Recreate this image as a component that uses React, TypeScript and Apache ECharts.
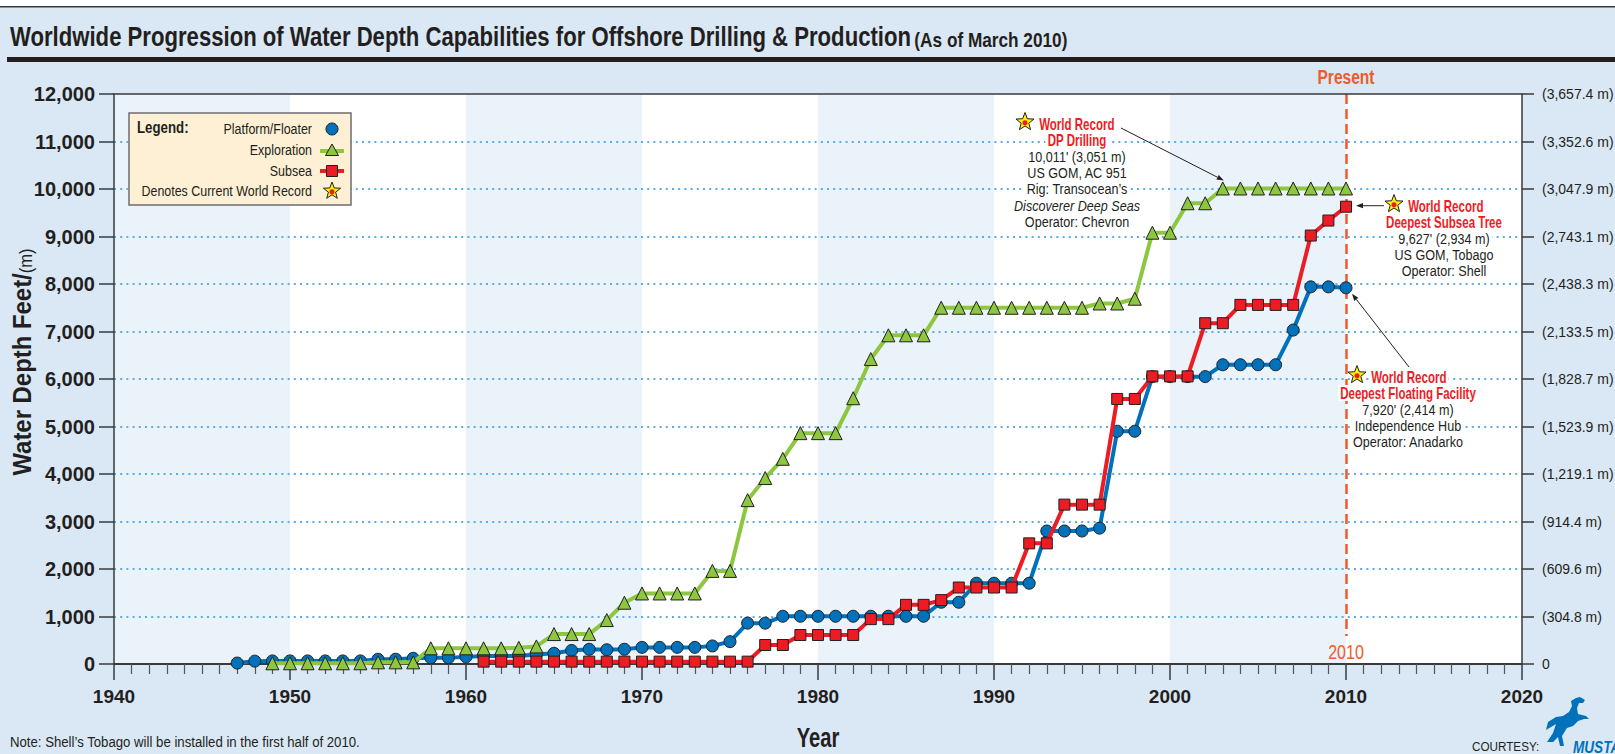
import React, { useEffect, useRef } from "react";
import * as echarts from "echarts";

const FONT = "'Liberation Sans', Arial, Helvetica, sans-serif";

// ---- data ----
const years = [
  1947, 1948, 1949, 1950, 1951, 1952, 1953, 1954, 1955, 1956, 1957, 1958, 1959, 1960,
  1961, 1962, 1963, 1964, 1965, 1966, 1967, 1968, 1969, 1970, 1971, 1972, 1973, 1974,
  1975, 1976, 1977, 1978, 1979, 1980, 1981, 1982, 1983, 1984, 1985, 1986, 1987, 1988,
  1989, 1990, 1991, 1992, 1993, 1994, 1995, 1996, 1997, 1998, 1999, 2000, 2001, 2002,
  2003, 2004, 2005, 2006, 2007, 2008, 2009, 2010,
];

const platformFloater = [
  20, 60, 65, 65, 65, 65, 65, 65, 100, 100, 120, 130, 130, 150,
  170, 170, 170, 200, 225, 285, 310, 300, 310, 350, 350, 350, 350, 380,
  470, 860, 860, 1005, 1005, 1005, 1005, 1005, 1005, 1005, 1005, 1005, 1300, 1300,
  1700, 1700, 1700, 1700, 2800, 2800, 2800, 2860, 4900, 4900, 6050, 6050, 6050, 6050,
  6300, 6300, 6300, 6300, 7030, 7940, 7940, 7920,
];

const exploration = [
  null, null, 15, 15, 15, 15, 15, 15, 35, 35, 35, 330, 330, 330,
  330, 330, 340, 370, 630, 630, 630, 925, 1290, 1485, 1485, 1485, 1485, 1960,
  1960, 3450, 3915, 4320, 4860, 4860, 4860, 5595, 6420, 6920, 6920, 6920, 7500, 7500,
  7500, 7500, 7500, 7500, 7500, 7500, 7500, 7590, 7590, 7690, 9080, 9080, 9700, 9700,
  10011, 10011, 10011, 10011, 10011, 10011, 10011, 10011,
];

const subsea = [
  null, null, null, null, null, null, null, null, null, null, null, null, null, null,
  50, 50, 50, 50, 50, 50, 50, 50, 50, 50, 50, 50, 50, 50,
  50, 50, 400, 400, 610, 610, 610, 610, 945, 945, 1245, 1245, 1345, 1610,
  1610, 1610, 1610, 2540, 2540, 3355, 3355, 3355, 5580, 5580, 6055, 6055, 6055, 7175,
  7175, 7560, 7560, 7560, 7560, 9020, 9336, 9627,
];

const xMin = 1940;
const xMax = 2020;
const yMax = 12000;
const meterLabels = [
  "0", "(304.8 m)", "(609.6 m)", "(914.4 m)", "(1,219.1 m)", "(1,523.9 m)", "(1,828.7 m)",
  "(2,133.5 m)", "(2,438.3 m)", "(2,743.1 m)", "(3,047.9 m)", "(3,352.6 m)", "(3,657.4 m)",
];
const presentYear = 2010;
const presentLineBottom = 590;

const legendItems = ["Platform/Floater", "Exploration", "Subsea", "Denotes Current World Record"];

const recordDP = {
  point: [2003, 10011],
  title: ["World Record", "DP Drilling"],
  lines: ["10,011' (3,051 m)", "US GOM, AC 951", "Rig: Transocean\u2019s", "Discoverer Deep Seas", "Operator: Chevron"],
};
const recordTree = {
  point: [2010, 9627],
  title: ["World Record", "Deepest Subsea Tree"],
  lines: ["9,627' (2,934 m)", "US GOM, Tobago", "Operator: Shell"],
};
const recordFloat = {
  point: [2010, 7920],
  title: ["World Record", "Deepest Floating Facility"],
  lines: ["7,920' (2,414 m)", "Independence Hub", "Operator: Anadarko"],
};

// ---- colours ----
const C = {
  bg: "#dae8f5",
  band: "#eaf2fa",
  grid: "#5fabe6",
  axis: "#3a3a3a",
  text: "#231f20",
  blue: "#0072bc",
  green: "#8dc63f",
  red: "#ed1c24",
  orange: "#f15a29",
  star: "#fff200",
};

function toPairs(vals: (number | null)[]) {
  return years.map((y, i) => [y, vals[i]]);
}

function starPts(cx: number, cy: number, R: number) {
  const pts: number[][] = [];
  for (let i = 0; i < 10; i++) {
    const r = i % 2 === 0 ? R : R * 0.42;
    const a = -Math.PI / 2 + (i * Math.PI) / 5;
    pts.push([cx + r * Math.cos(a), cy + r * Math.sin(a)]);
  }
  return pts;
}

function star(cx: number, cy: number, R = 9.5): any[] {
  return [
    { type: "polygon", z: 20, shape: { points: starPts(cx, cy, R) }, style: { fill: C.star, stroke: C.text, lineWidth: 1 } },
    { type: "circle", z: 21, shape: { cx, cy: cy + 0.8, r: 2.6 }, style: { fill: C.red } },
  ];
}

function txt(x: number, y: number, text: string, o: any = {}): any {
  const style: any = {
    text,
    fill: o.fill || C.text,
    fontSize: o.size || 15,
    fontWeight: o.weight || "normal",
    fontStyle: o.style || "normal",
    fontFamily: FONT,
    align: o.align || "center",
    verticalAlign: "middle",
  };
  if (o.bg) {
    style.backgroundColor = o.bg;
    style.padding = [0, 3];
  }
  return { type: "text", z: o.z || 20, x, y, scaleX: o.sx || 0.83, style };
}

function arrow(x1: number, y1: number, x2: number, y2: number): any[] {
  const dx = x2 - x1;
  const dy = y2 - y1;
  const len = Math.sqrt(dx * dx + dy * dy);
  const ux = dx / len;
  const uy = dy / len;
  const L = 7;
  const W = 2.6;
  const bx = x2 - ux * L;
  const by = y2 - uy * L;
  return [
    { type: "line", z: 22, shape: { x1, y1, x2: bx, y2: by }, style: { stroke: C.text, lineWidth: 1 } },
    {
      type: "polygon",
      z: 22,
      shape: { points: [[x2, y2], [bx - uy * W, by + ux * W], [bx + uy * W, by - ux * W]] },
      style: { fill: C.text },
    },
  ];
}

function recordBlock(block: any, starX: number, starY: number, centerX: number, lineGap = 16.3): any[] {
  const els: any[] = [];
  els.push(txt(starX + 12, starY + 2, block.title[0], { align: "left", fill: C.red, weight: "bold", size: 16, sx: 0.72, bg: "#ffffff" }));
  els.push(txt(centerX, starY + 18, block.title[1], { fill: C.red, weight: "bold", size: 16, sx: 0.72, bg: "#ffffff" }));
  block.lines.forEach((l: string, i: number) => {
    els.push(
      txt(centerX, starY + 18 + lineGap * (i + 1), l, {
        size: 15,
        sx: 0.84,
        bg: "#ffffff",
        style: l.startsWith("Discoverer") ? "italic" : "normal",
      })
    );
  });
  els.push(...star(starX, starY));
  return els;
}

export default function App() {
  const ref = useRef<HTMLDivElement>(null);

  useEffect(() => {
    if (!ref.current) return;
    const chart = echarts.init(ref.current, undefined, { renderer: "svg" });

    const markerBorder = { borderColor: C.text, borderWidth: 1 };

    chart.setOption({
      animation: false,
      backgroundColor: C.bg,
      grid: { left: 114, right: 93, top: 94, bottom: 90, containLabel: false, outerBoundsMode: "none" },
      xAxis: [
        {
          type: "value",
          z: 0,
          min: xMin,
          max: xMax,
          interval: 10,
          axisLine: { show: true, onZero: false, lineStyle: { color: C.axis, width: 2 } },
          axisTick: { show: true, length: 16, lineStyle: { color: C.axis, width: 1.5 } },
          minorTick: { show: true, splitNumber: 10, length: 10, lineStyle: { color: "#555", width: 1.2 } },
          axisLabel: {
            margin: 23,
            fontFamily: FONT,
            fontSize: 19,
            fontWeight: "bold",
            color: C.text,
            formatter: (v: number) => String(v),
          },
          splitLine: { show: false },
          splitArea: { show: true, areaStyle: { color: [C.band, "#ffffff"] } },
        },
        {
          type: "value",
          z: 1,
          position: "top",
          min: xMin,
          max: xMax,
          interval: 10,
          axisLine: { show: true, onZero: false, lineStyle: { color: C.axis, width: 1.5 } },
          axisTick: { show: false },
          axisLabel: { show: false },
          splitLine: { show: false },
          splitArea: { show: false },
        },
      ],
      yAxis: [
        {
          type: "value",
          z: 1,
          min: 0,
          max: yMax,
          interval: 1000,
          axisLine: { show: true, onZero: false, lineStyle: { color: C.axis, width: 1.5 } },
          axisTick: { show: true, length: 15, lineStyle: { color: C.axis, width: 1.5 } },
          axisLabel: {
            margin: 19,
            fontFamily: FONT,
            fontSize: 20,
            fontWeight: "bold",
            color: C.text,
            formatter: (v: number) => v.toLocaleString("en-US"),
          },
          splitLine: {
            show: true,
            showMinLine: false,
            showMaxLine: false,
            lineStyle: { color: C.grid, width: 2, type: [2, 4.2] },
          },
        },
        {
          type: "value",
          z: 1,
          position: "right",
          min: 0,
          max: yMax,
          interval: 1000,
          axisLine: { show: true, onZero: false, lineStyle: { color: C.axis, width: 1.5 } },
          axisTick: { show: true, length: 12, lineStyle: { color: C.axis, width: 1.5 } },
          axisLabel: {
            margin: 20,
            fontFamily: FONT,
            fontSize: 14,
            color: C.text,
            formatter: (v: number) => meterLabels[Math.round(v / 1000)],
          },
          splitLine: { show: false },
        },
      ],
      series: [
        {
          name: "Platform/Floater",
          type: "line",
          z: 2,
          data: toPairs(platformFloater),
          symbol: "circle",
          symbolSize: 12,
          lineStyle: { color: C.blue, width: 4 },
          itemStyle: { color: C.blue, ...markerBorder },
          markLine: {
            z: 1,
            silent: true,
            symbol: ["none", "none"],
            label: { show: false },
            lineStyle: { color: C.orange, width: 2.5, type: [10, 5] },
            data: [[{ coord: [presentYear, yMax] }, { coord: [presentYear, presentLineBottom] }]],
          },
        },
        {
          name: "Exploration",
          type: "line",
          z: 3,
          data: toPairs(exploration),
          symbol: "triangle",
          symbolSize: 13,
          lineStyle: { color: C.green, width: 4 },
          itemStyle: { color: C.green, ...markerBorder },
        },
        {
          name: "Subsea",
          type: "line",
          z: 4,
          data: toPairs(subsea),
          symbol: "rect",
          symbolSize: 11,
          lineStyle: { color: C.red, width: 4 },
          itemStyle: { color: C.red, ...markerBorder },
        },
      ],
    });

    const px = (p: number[]) => chart.convertToPixel({ xAxisIndex: 0, yAxisIndex: 0 }, p) as number[];

    const gfx: any[] = [];
    // top strip & title
    gfx.push({ type: "rect", z: 5, shape: { x: 0, y: 0, width: 1615, height: 6 }, style: { fill: "#ffffff" } });
    gfx.push({ type: "rect", z: 5, shape: { x: 0, y: 6, width: 1615, height: 1.6 }, style: { fill: "#3a3a3a" } });
    gfx.push({ type: "rect", z: 5, shape: { x: 7, y: 57, width: 1608, height: 5 }, style: { fill: C.text } });
    gfx.push({
      type: "text",
      z: 5,
      x: 10,
      y: 37,
      scaleX: 0.82,
      style: {
        text: "{a|Worldwide Progression of Water Depth Capabilities for Offshore Drilling & Production} {b|(As of March 2010)}",
        verticalAlign: "middle",
        align: "left",
        rich: {
          a: { fontFamily: FONT, fontSize: 27, fontWeight: "bold", fill: C.text, verticalAlign: "bottom" },
          b: { fontFamily: FONT, fontSize: 21, fontWeight: "bold", fill: C.text, verticalAlign: "bottom" },
        },
      },
    });

    // y axis name
    gfx.push({
      type: "text",
      z: 5,
      x: 22,
      y: 362,
      rotation: Math.PI / 2,
      scaleX: 0.92,
      style: {
        text: "{a|Water Depth Feet/}{b|(m)}",
        align: "center",
        verticalAlign: "middle",
        rich: {
          a: { fontFamily: FONT, fontSize: 26, fontWeight: "bold", fill: C.text, verticalAlign: "bottom" },
          b: { fontFamily: FONT, fontSize: 18, fill: C.text, verticalAlign: "bottom" },
        },
      },
    });

    // x axis name
    gfx.push(txt(px([1980, 0])[0], 737, "Year", { weight: "bold", size: 28, sx: 0.72 }));

    // legend
    gfx.push({
      type: "rect",
      z: 10,
      shape: { x: 129, y: 113, width: 222, height: 92 },
      style: { fill: "#fef0d4", stroke: "#6d6e71", lineWidth: 1.5 },
    });
    gfx.push(txt(137, 128, "Legend:", { align: "left", weight: "bold", size: 16 }));
    const rowY = [129, 150, 171, 191];
    legendItems.forEach((t, i) => gfx.push(txt(312, rowY[i], t, { align: "right", size: 15 })));
    gfx.push({ type: "circle", z: 20, shape: { cx: 332, cy: rowY[0], r: 6 }, style: { fill: C.blue, stroke: C.text, lineWidth: 1 } });
    gfx.push({ type: "line", z: 20, shape: { x1: 320, y1: rowY[1] + 1, x2: 344, y2: rowY[1] + 1 }, style: { stroke: C.green, lineWidth: 4 } });
    gfx.push({
      type: "polygon",
      z: 21,
      shape: { points: [[332, rowY[1] - 6], [338.5, rowY[1] + 5.5], [325.5, rowY[1] + 5.5]] },
      style: { fill: C.green, stroke: C.text, lineWidth: 1 },
    });
    gfx.push({ type: "line", z: 20, shape: { x1: 320, y1: rowY[2], x2: 344, y2: rowY[2] }, style: { stroke: C.red, lineWidth: 4 } });
    gfx.push({ type: "rect", z: 21, shape: { x: 326.5, y: rowY[2] - 5.5, width: 11, height: 11 }, style: { fill: C.red, stroke: C.text, lineWidth: 1 } });
    gfx.push(...star(332, rowY[3], 9));

    // present line labels
    const pTop = px([presentYear, yMax]);
    const pBot = px([presentYear, presentLineBottom]);
    gfx.push(txt(pTop[0], 77, "Present", { fill: C.orange, weight: "bold", size: 21, sx: 0.74 }));
    gfx.push(txt(pBot[0], pBot[1] + 16, "2010", { fill: C.orange, size: 20, sx: 0.8 }));

    // record annotations
    const dp = px(recordDP.point);
    gfx.push(...recordBlock(recordDP, 1025, 122, 1077));
    gfx.push(...arrow(1121, 128, dp[0] + 1, dp[1] - 8));

    const tree = px(recordTree.point);
    gfx.push(...arrow(1384, tree[1] - 1, tree[0] + 10, tree[1] - 1));
    gfx.push(...recordBlock(recordTree, 1394, 204, 1444));

    const fl = px(recordFloat.point);
    gfx.push(...arrow(1409, 367, fl[0] + 6, fl[1] + 6));
    gfx.push(...recordBlock(recordFloat, 1357, 375, 1408));

    // footer
    gfx.push(txt(10, 742, "Note: Shell\u2019s Tobago will be installed in the first half of 2010.", { align: "left", size: 15, sx: 0.88 }));
    gfx.push(txt(1472, 747, "COURTESY:", { align: "left", size: 13, sx: 0.9 }));
    gfx.push({
      type: "polygon",
      z: 20,
      shape: {
        points: [
          [1547, 742], [1553, 733], [1556, 724], [1551, 727], [1546, 730], [1548, 722], [1556, 717],
          [1563, 716], [1569, 712], [1572, 706], [1571, 701], [1576, 698], [1580, 697], [1585, 700],
          [1583, 703], [1579, 703], [1577, 708], [1578, 714], [1586, 716], [1589, 719], [1584, 719],
          [1578, 721], [1573, 726], [1567, 728], [1562, 736], [1564, 746], [1560, 746], [1558, 737],
          [1553, 742],
        ],
      },
      style: { fill: C.blue },
    });
    gfx.push(txt(1573, 748, "MUSTANG", { align: "left", size: 16, weight: "bold", style: "italic", fill: C.blue, sx: 0.85 }));

    chart.setOption({ graphic: gfx });

    return () => chart.dispose();
  }, []);

  return (
    <div
      ref={ref}
      style={{ position: "fixed", left: 0, top: 0, width: 1615, height: 754 }}
    />
  );
}
